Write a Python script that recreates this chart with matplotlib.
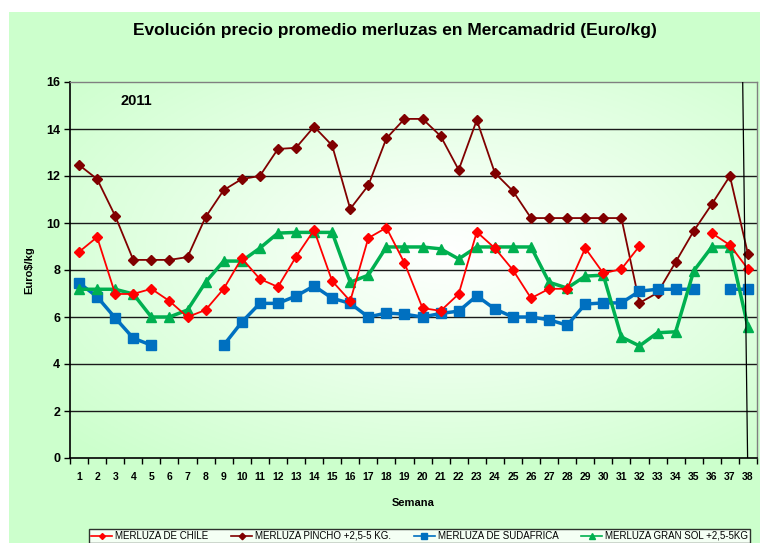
import numpy as np
import matplotlib
matplotlib.use("Agg")
import matplotlib.pyplot as plt
from matplotlib.patches import Rectangle
from matplotlib.lines import Line2D

nan = np.nan
weeks = list(range(1, 39))
week_labels = [str(w) for w in weeks]

chile = [8.77, 9.4, 6.98, 6.98, 7.2, 6.68, 6.0, 6.3, 7.2, 8.5,
         7.62, 7.28, 8.56, 9.7, 7.53, 6.68, 9.36, 9.8, 8.3, 6.38,
         6.26, 6.98, 9.62, 8.93, 8.0, 6.8, 7.2, 7.2, 8.93, 7.86,
         8.04, 9.02, nan, nan, nan, 9.57, 9.06, 8.04]
pincho = [12.47, 11.87, 10.3, 8.43, 8.43, 8.43, 8.55, 10.25, 11.4, 11.87,
          12.0, 13.15, 13.2, 14.1, 13.3, 10.6, 11.6, 13.6, 14.43, 14.43,
          13.7, 12.26, 14.38, 12.13, 11.36, 10.21, 10.21, 10.21, 10.21, 10.21,
          10.21, 6.6, 7.03, 8.34, 9.66, 10.8, 12.0, 8.68]
sudafrica = [7.45, 6.86, 5.96, 5.1, 4.8, nan, nan, nan, 4.8, 5.78,
             6.58, 6.58, 6.89, 7.32, 6.8, 6.58, 6.0, 6.17, 6.12, 6.0,
             6.15, 6.25, 6.9, 6.34, 6.0, 6.0, 5.88, 5.65, 6.55, 6.6,
             6.6, 7.1, 7.18, 7.18, 7.18, nan, 7.18, 7.18]
gransol = [7.18, 7.18, 7.18, 6.98, 6.0, 6.0, 6.3, 7.48, 8.38, 8.38,
           8.93, 9.57, 9.6, 9.6, 9.6, 7.48, 7.78, 8.98, 8.98, 8.98,
           8.9, 8.47, 8.98, 8.98, 8.98, 8.98, 7.48, 7.23, 7.74, 7.78,
           5.15, 4.77, 5.33, 5.37, 7.96, 8.98, 8.98, 5.57]

series_names = ["MERLUZA DE CHILE", "MERLUZA PINCHO +2,5-5 KG.",
                "MERLUZA DE SUDAFRICA", "MERLUZA GRAN SOL +2,5-5KG"]
yticks = [0, 2, 4, 6, 8, 10, 12, 14, 16]

plt.rcParams['font.family'] = ['Liberation Sans', 'DejaVu Sans']

W, H = 760, 543
fig = plt.figure(figsize=(W / 100, H / 100), dpi=100, facecolor='white')
fig.patches.append(Rectangle((9 / W, 0), 1 - 9 / W, 1 - 12 / H,
                             transform=fig.transFigure, facecolor='#CCFFCC',
                             edgecolor='none', zorder=-10))

ax = fig.add_axes([70 / W, 1 - 458 / H, 687 / W, 376 / H])
ax.set_facecolor('none')

# radial gradient background
nx, ny = 300, 200
xx, yy = np.meshgrid(np.linspace(0, 1, nx), np.linspace(0, 1, ny))
d = np.sqrt(((xx - 0.55) / 0.75) ** 2 + ((yy - 0.55) / 0.75) ** 2)
d = np.clip(d, 0, 1)
c0 = np.array([1.0, 1.0, 1.0])
c1 = np.array([0.80, 1.0, 0.80])
img = c0[None, None, :] * (1 - d[..., None]) + c1[None, None, :] * d[..., None]
ax.imshow(img, extent=[0, 1, 0, 1], transform=ax.transAxes, aspect='auto',
          zorder=0, origin='lower')

x = np.array(weeks)
for yv in yticks[1:-1]:
    ax.axhline(yv, color='#1a1a1a', lw=1.0, zorder=1)

ax.plot(x, chile, color='#FF0000', lw=1.3, marker='D', ms=5,
        mfc='#FF0000', mec='#FF0000', label=series_names[0], zorder=4)
ax.plot(x, pincho, color='#800000', lw=1.3, marker='D', ms=5.5,
        mfc='#800000', mec='#800000', label=series_names[1], zorder=3)
ax.plot(x, sudafrica, color='#0070C0', lw=2.5, marker='s', ms=7,
        mfc='#0070C0', mec='#0070C0', label=series_names[2], zorder=3)
ax.plot(x, gransol, color='#00B050', lw=2.5, marker='^', ms=7,
        mfc='#00B050', mec='#00B050', label=series_names[3], zorder=3)

ax.add_line(Line2D([(742.7 - 70) / 687, (747.6 - 70) / 687], [1, 0],
                   transform=ax.transAxes, color='black', lw=0.9, zorder=5))

ax.set_xlim(0.5, 38.5)
ax.set_ylim(0, 16)
ax.set_yticks(yticks)
ax.set_yticklabels([str(v) for v in yticks], fontsize=9, fontweight='bold')
ax.set_xticks(x)
ax.set_xticklabels(week_labels, fontsize=7.5, fontweight='bold')
ax.set_xticks(np.arange(0.5, 39, 1), minor=True)
ax.tick_params(axis='x', which='major', length=0, pad=10)
ax.tick_params(axis='x', which='minor', length=4, width=1, direction='out')
ax.tick_params(axis='y', length=4, width=1, direction='out', pad=3)

for s in ['left', 'bottom']:
    ax.spines[s].set_color('black')
    ax.spines[s].set_linewidth(1.2)
for s in ['top', 'right']:
    ax.spines[s].set_color('#808080')
    ax.spines[s].set_linewidth(1.0)

fig.text(395 / W, 1 - 30 / H,
         "Evolución precio promedio merluzas en Mercamadrid (Euro/kg)",
         ha='center', va='center', fontsize=12.5, fontweight='bold')
fig.text(136 / W, 1 - 101 / H, "2011", ha='center', va='center',
         fontsize=10.5, fontweight='bold')
fig.text(413 / W, 1 - 503 / H, "Semana", ha='center', va='center',
         fontsize=8, fontweight='bold')
fig.text(29 / W, 1 - 270 / H, "Euro$/kg", ha='center', va='center',
         fontsize=8, fontweight='bold', rotation=90)

leg = fig.legend(loc='upper left', bbox_to_anchor=(89 / W, 1 - 529 / H),
                 borderaxespad=0, ncol=4, fontsize=7, frameon=True,
                 fancybox=False, handlelength=2.2, handletextpad=0.3,
                 columnspacing=2.3, borderpad=0.2, markerscale=0.6)
leg.get_frame().set_edgecolor('black')
leg.get_frame().set_linewidth(1.0)
leg.get_frame().set_facecolor('white')
for h in leg.legend_handles:
    h.set_linewidth(1.2)

fig.savefig('out.png', dpi=100, facecolor=fig.get_facecolor())
